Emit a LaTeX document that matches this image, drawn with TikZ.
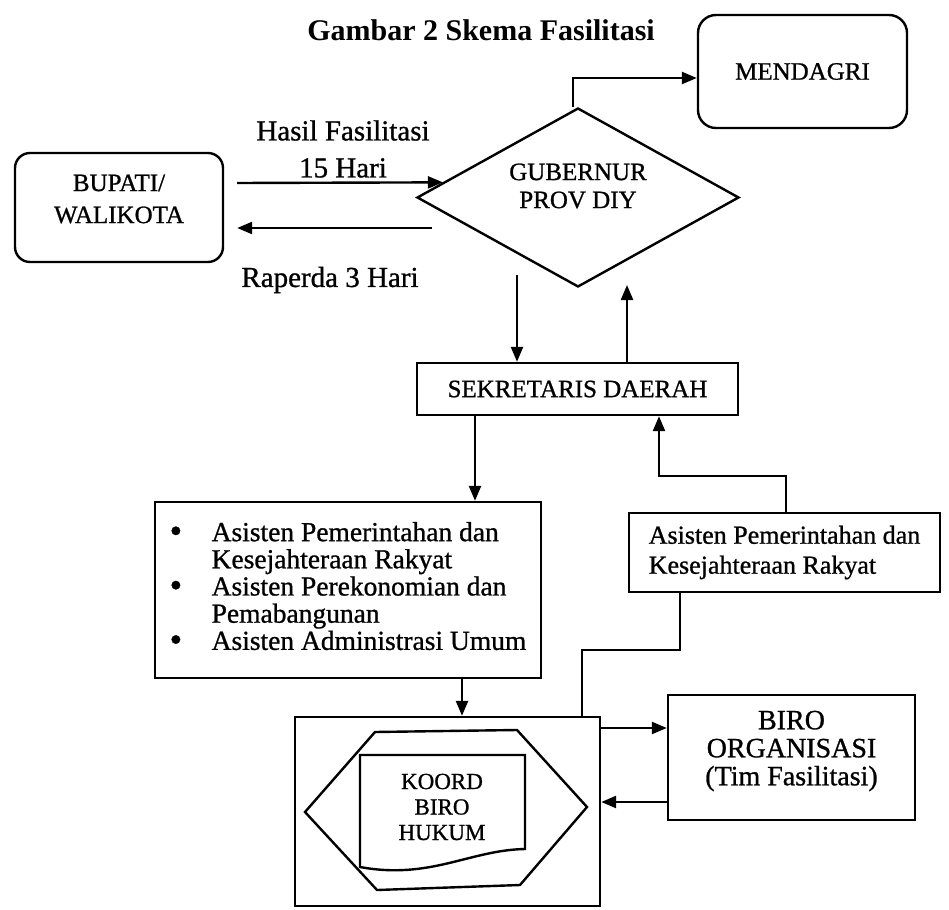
\documentclass[tikz,border=0pt]{standalone}
\usepackage{fontspec}
\setmainfont{Liberation Serif}[UprightFeatures={FakeBold=0.9}]
\usetikzlibrary{arrows.meta,shapes.geometric,calc}
\newcommand{\listdot}{\raisebox{-1.5pt}{\scalebox{1.3}{\textbullet}}}
\begin{document}
\begin{tikzpicture}[x=1pt,y=-1pt,
  line width=2.4pt,
  arr/.style={-{Triangle[length=15pt,width=12pt]}},
  box/.style={draw, rectangle, inner sep=0pt, align=center,
              font=\fontsize{25}{30}\selectfont},
  rbox/.style={box, rounded corners=18pt},
  lbl/.style={inner sep=0pt, align=center}
  ]
\useasboundingbox (0,0) rectangle (949,909);

% heading
\node[lbl, font=\bfseries\fontsize{30}{36}\selectfont] (title) at (481,30) {Gambar 2 Skema Fasilitasi};

% top row
\node[rbox, minimum width=209pt, minimum height=113pt] (mendagri) at (802.5,71.5) {MENDAGRI};
\node[draw, diamond, minimum width=322pt, minimum height=179pt, inner sep=0pt] (gub) at (578,197.5) {};
\node[lbl, font=\fontsize{25}{28}\selectfont] (gubtxt) at (578,186) {GUBERNUR\\PROV DIY};
\node[rbox, rounded corners=15pt, minimum width=208pt, minimum height=109pt] (bupati) at (119,207.5) {};
\node[lbl, font=\fontsize{25}{32}\selectfont] (bupatitxt) at (119,199) {BUPATI/\\WALIKOTA};

\node[lbl, font=\fontsize{29}{37}\selectfont] (hasil) at (343,149) {Hasil Fasilitasi\\15 Hari};
\node[lbl, font=\fontsize{29}{35}\selectfont] (raperda) at (330,280) {Raperda 3 Hari};

\draw[arr] ($(bupati.east |- 0,183)+(13,0)$) -- ($(gub.west)!0.167!(gub.north)$);
\draw[arr] ($(gub.west |- 0,228)+(16,0)$) -- ($(bupati.east |- 0,228)+(13,0)$);
\coordinate (m1) at (573,78);
\draw[arr] (m1 |- gub.north) -- (m1) -- (m1 -| mendagri.west);

% sekretaris daerah
\node[box, minimum width=321pt, minimum height=52pt] (sek) at (577.5,389) {SEKRETARIS DAERAH};
\coordinate (d1) at (517,275);
\coordinate (u1) at (627,285);
\draw[arr] (d1) -- (d1 |- sek.north);
\draw[arr] (u1 |- sek.north) -- (u1);

% assistants
\node[box, minimum width=386pt, minimum height=176pt, font=\fontsize{27.5}{27}\selectfont] (list) at (348,590) {%
  \begin{tabular}{@{}p{42pt}@{}l@{}}
  \listdot & Asisten Pemerintahan dan\\
           & Kesejahteraan Rakyat\\
  \listdot & Asisten Perekonomian dan\\
           & Pemabangunan\\
  \listdot & Asisten Administrasi Umum
  \end{tabular}};
\node[box, align=left, minimum width=311pt, minimum height=79pt,
      font=\fontsize{26}{30}\selectfont] (asr) at (784.5,552.5) {Asisten Pemerintahan dan\\Kesejahteraan Rakyat};

\coordinate (c1) at (475,450);
\draw[arr] (c1 |- sek.south) -- (c1 |- list.north);
\coordinate (a1) at (786,476);
\coordinate (a2) at (659,476);
\draw[arr] (a1 |- asr.north) -- (a1) -- (a2) -- (a2 |- sek.south);

% coordination block
\node[draw, inner sep=0pt, minimum width=305pt, minimum height=189pt] (koordbox) at (447.5,811.5) {};
\draw (375,732) -- (517,730) -- (587,807) -- (520,885) -- (377,890) -- (305,812) -- cycle;
\draw (360,755) -- (525,755) -- (525,849) .. controls (470,850) and (430,880) .. (360,867) -- cycle;
\node[lbl, font=\fontsize{23}{25.5}\selectfont] (koord) at (442,807) {KOORD\\BIRO\\HUKUM};

\coordinate (c2) at (462,700);
\draw[arr] (c2 |- list.south) -- (c2 |- koordbox.north);
\coordinate (b1) at (680,650);
\coordinate (b2) at (582,650);
\draw (b1 |- asr.south) -- (b1) -- (b2) -- (b2 |- koordbox.north);

% biro organisasi
\node[box, minimum width=247pt, minimum height=125pt] (biro) at (791.5,757.5) {};
\node[lbl, font=\fontsize{28}{28}\selectfont] (birotxt) at (791.5,751) {BIRO\\ORGANISASI\\(Tim Fasilitasi)};
\coordinate (r1) at (600,728);
\coordinate (r2) at (600,802);
\draw[arr] (r1 -| koordbox.east) -- (r1 -| biro.west);
\draw[arr] (r2 -| biro.west) -- (r2 -| koordbox.east);
\end{tikzpicture}
\end{document}
